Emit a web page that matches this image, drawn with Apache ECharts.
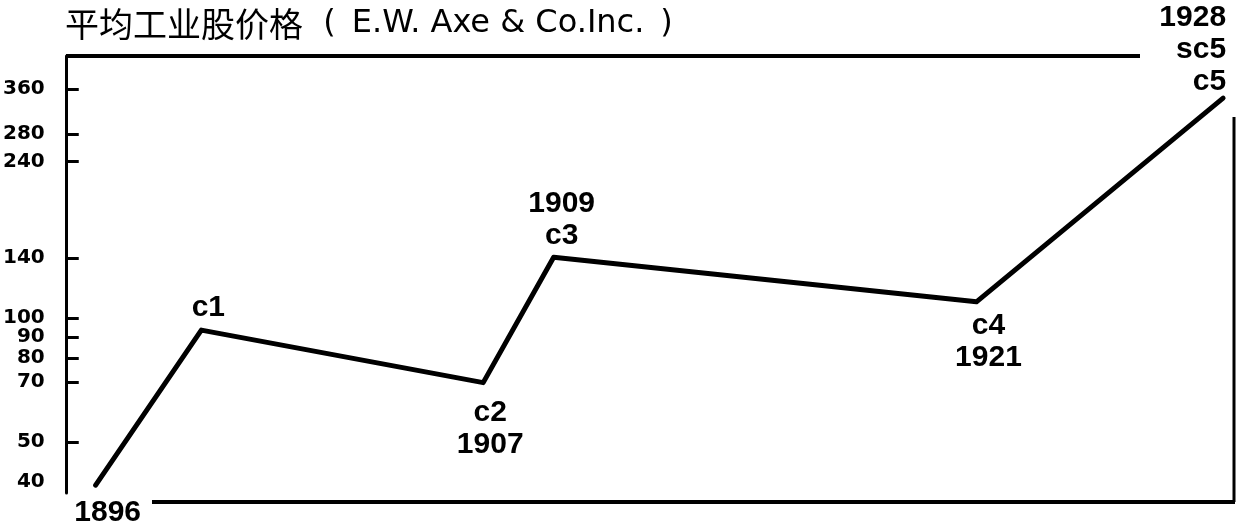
<!DOCTYPE html>
<html>
<head>
<meta charset="utf-8">
<script src="https://cdn.jsdelivr.net/npm/echarts@6/dist/echarts.min.js"></script>
<style>html,body{margin:0;padding:0;background:#fff;}#c{width:1240px;height:527px;}</style>
</head>
<body>
<div id="c"></div>
<script>
// ---- data ----
var years = [1896, 1899, 1907, 1909, 1921, 1928];
var prices = [39.3, 93.5, 69.7, 140.5, 109.5, 342];
var pointLabels = ['1896', 'c1', 'c2\n1907', '1909\nc3', 'c4\n1921', '1928\nsc5\nc5'];
var yTickValues = [50, 70, 80, 90, 100, 140, 240, 280, 360];
var yLabelValues = [40, 50, 70, 80, 90, 100, 140, 240, 280, 360];
var titleCn = '平均工业股价格';
var titleEn = '  (\u2002E.W. Axe & Co.Inc.\u2002)';

// label styles per point (style only)
var labelStyles = [
  {position: 'bottom', distance: 12, offset: [12, 0], align: 'center'},
  {position: 'top', distance: 6, offset: [7, 0], align: 'center'},
  {position: 'bottom', distance: 14, offset: [7, 0], align: 'center'},
  {position: 'top', distance: 6, offset: [8, 0], align: 'center'},
  {position: 'bottom', distance: 8, offset: [12, 0], align: 'center'},
  {position: 'top', distance: 2, offset: [3, 2], align: 'right'}
];

var seriesData = years.map(function (y, i) {
  var s = labelStyles[i];
  return {
    value: [y, prices[i]],
    label: {
      show: true,
      formatter: pointLabels[i],
      position: s.position,
      distance: s.distance,
      offset: s.offset,
      align: s.align
    }
  };
});

var chart = echarts.init(document.getElementById('c'), null, {renderer: 'canvas'});
chart.setOption({
  backgroundColor: '#fff',
  animation: false,
  title: {
    text: '{cn|' + titleCn + '}{en|' + titleEn + '}',
    left: 60, top: 2,
    textStyle: {
      color: '#000',
      fontWeight: 'normal',
      rich: {
        cn: {fontFamily: 'Noto Sans CJK SC', fontSize: 34, fontWeight: 'normal', color: '#000'},
        en: {fontFamily: 'DejaVu Sans', fontSize: 32, fontWeight: 'normal', color: '#000'}
      }
    }
  },
  grid: {left: 66, right: 6, top: 56, bottom: 34},
  xAxis: {
    type: 'value',
    min: 1895.18, max: 1928.31,
    axisLine: {show: false},
    axisTick: {show: false},
    axisLabel: {show: false},
    splitLine: {show: false}
  },
  yAxis: {
    type: 'log',
    min: 37.6, max: 433,
    axisLine: {show: true, lineStyle: {color: '#000', width: 3}},
    axisTick: {show: true, inside: true, length: 12, lineStyle: {color: '#000', width: 3}, customValues: yTickValues},
    axisLabel: {
      show: true, margin: 22, color: '#000',
      fontFamily: 'DejaVu Sans', fontWeight: 'bold', fontSize: 20,
      customValues: yLabelValues
    },
    splitLine: {show: false}
  },
  graphic: [
    {type: 'line', shape: {x1: 66, y1: 56, x2: 1140, y2: 56}, style: {stroke: '#000', lineWidth: 4}},
    {type: 'line', shape: {x1: 1234, y1: 117, x2: 1234, y2: 502}, style: {stroke: '#000', lineWidth: 3}},
    {type: 'line', shape: {x1: 152, y1: 502, x2: 1235, y2: 502}, style: {stroke: '#000', lineWidth: 4}}
  ],
  series: [{
    type: 'line',
    data: seriesData,
    showSymbol: true,
    symbol: 'circle',
    symbolSize: 0,
    itemStyle: {color: '#000'},
    lineStyle: {color: '#000', width: 5, join: 'round', cap: 'round'},
    label: {
      color: '#000',
      fontFamily: 'Liberation Sans, sans-serif',
      fontWeight: 'bold',
      fontSize: 30,
      lineHeight: 32
    }
  }]
});
</script>
</body>
</html>
